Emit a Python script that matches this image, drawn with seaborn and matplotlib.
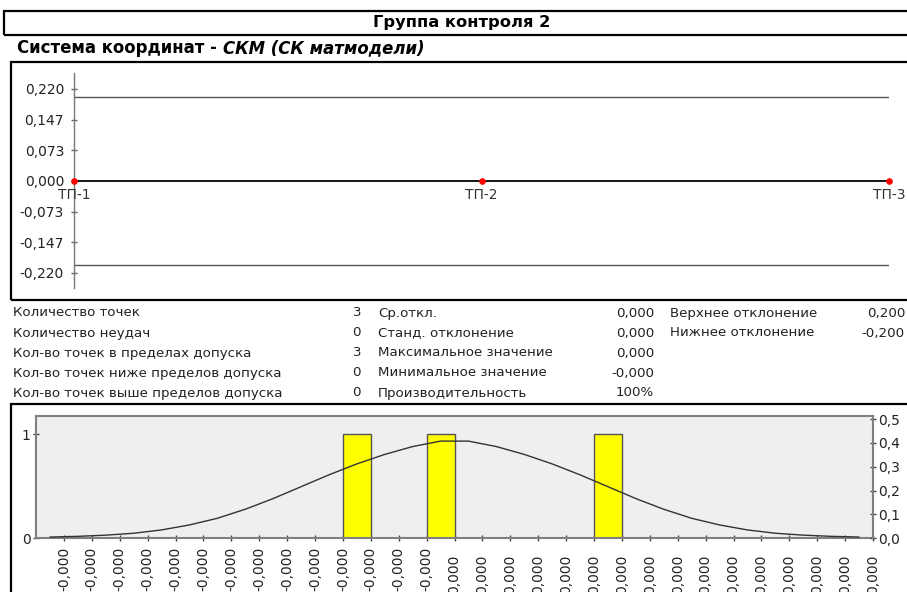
import numpy as np
import pandas as pd
import matplotlib
matplotlib.use("Agg")
import matplotlib.pyplot as plt
import seaborn as sns
from matplotlib.patches import Rectangle

# ---------------- data ----------------
title_text = "Группа контроля 2"
subtitle_plain = "Система координат - "
subtitle_italic = "СКМ (СК матмодели)"

point_names = ["ТП-1", "ТП-2", "ТП-3"]
point_dev = [0.000, 0.000, 0.000]
upper_tol = 0.200
lower_tol = -0.200
dev_ticks = [-0.220, -0.147, -0.073, 0.000, 0.073, 0.147, 0.220]

stats_col1_labels = ["Количество точек", "Количество неудач",
                     "Кол-во точек в пределах допуска",
                     "Кол-во точек ниже пределов допуска",
                     "Кол-во точек выше пределов допуска"]
stats_col1_values = ["3", "0", "3", "0", "0"]
stats_col2_labels = ["Ср.откл.", "Станд. отклонение", "Максимальное значение",
                     "Минимальное значение", "Производительность"]
stats_col2_values = ["0,000", "0,000", "0,000", "-0,000", "100%"]
stats_col3_labels = ["Верхнее отклонение", "Нижнее отклонение"]
stats_col3_values = ["0,200", "-0,200"]

# histogram: 30 bin-edge labels, 29 bins
hist_edge_labels = ["-0,000"] * 14 + ["0,000"] * 16
hist_counts = [0] * 10 + [1] + [0, 0] + [1] + [0] * 5 + [1] + [0] * 9
count_ticks = [0, 1]
density_ticks = [0.0, 0.1, 0.2, 0.3, 0.4, 0.5]
# normal curve read at bin centres (-0.5 ... 28.5)
curve_vals = [0.004, 0.007, 0.012, 0.020, 0.034, 0.055, 0.083, 0.121, 0.166,
              0.216, 0.266, 0.312, 0.352, 0.385, 0.408, 0.408, 0.385, 0.352,
              0.312, 0.266, 0.216, 0.166, 0.121, 0.083, 0.055, 0.034, 0.020,
              0.012, 0.007, 0.004]

# ---------------- setup ----------------
sns.set_style("white")
plt.rcParams["font.family"] = ["DejaVu Sans"]
W, H = 907, 592
fig = plt.figure(figsize=(W / 100, H / 100), dpi=100)


def fx(x):
    return x / W


def fy(y):
    return 1 - y / H


def axes_px(left, top, right, bottom):
    return fig.add_axes([fx(left), fy(bottom), (right - left) / W, (bottom - top) / H])


def rect_px(left, top, right, bottom, lw=2.0):
    fig.patches.append(Rectangle((fx(left), fy(bottom)), (right - left) / W,
                                 (bottom - top) / H, transform=fig.transFigure,
                                 fill=False, edgecolor="black", linewidth=lw))


# ---------------- frames & titles ----------------
rect_px(4, 11, 915, 35, lw=1.6)
fig.text(fx(462), fy(23), title_text, ha="center", va="center",
         fontsize=11.7, fontweight="bold", color="black")

t1 = fig.text(fx(17), fy(48), subtitle_plain, ha="left", va="center",
              fontsize=11.9, fontweight="bold", color="black")
fig.canvas.draw()
bb = t1.get_window_extent(renderer=fig.canvas.get_renderer())
fig.text(bb.x1 / W, fy(48), subtitle_italic, ha="left", va="center",
         fontsize=11.9, fontweight="bold", fontstyle="italic", color="black")

rect_px(11, 62, 915, 300, lw=1.6)
rect_px(11, 404, 915, 600, lw=1.6)

# ---------------- top deviation chart ----------------
ax = axes_px(74, 73, 889, 288)
px_per_unit = 92 / 0.22
ax.set_xlim(0, len(point_names) - 1)
ax.set_ylim(-(288 - 181) / px_per_unit, (181 - 73) / px_per_unit)
ax.axhline(upper_tol, color="#555555", lw=1)
ax.axhline(lower_tol, color="#555555", lw=1)
df_pts = pd.DataFrame({"pos": range(len(point_names)), "dev": point_dev})
sns.lineplot(data=df_pts, x="pos", y="dev", ax=ax, color="black", lw=1.3,
             marker="o", markersize=4, markerfacecolor="red",
             markeredgecolor="red", clip_on=False, zorder=5)
for i, name in enumerate(point_names):
    ax.annotate(name, (i, point_dev[i]), xytext=(0, -5), textcoords="offset points",
                ha="center", va="top", fontsize=10, color="#333333",
                annotation_clip=False)
ax.set_yticks(dev_ticks)
ax.set_yticklabels([f"{v:.3f}".replace(".", ",") for v in dev_ticks])
ax.set_xticks([])
ax.set_xlabel("")
ax.set_ylabel("")
for s in ["top", "right", "bottom"]:
    ax.spines[s].set_visible(False)
ax.spines["left"].set_color("#777777")
ax.spines["left"].set_linewidth(1)
ax.tick_params(axis="y", direction="inout", length=4.3, width=1, color="#666666",
               labelsize=10, labelcolor="#222222", pad=5, left=True)
ax.patch.set_visible(False)

# ---------------- stats table ----------------
rows_y = [313, 333, 353, 373, 393]
fs_tab = 9.6
tc = "#222222"
for i, y in enumerate(rows_y):
    fig.text(fx(13), fy(y), stats_col1_labels[i], ha="left", va="center", fontsize=fs_tab, color=tc)
    fig.text(fx(361), fy(y), stats_col1_values[i], ha="right", va="center", fontsize=fs_tab, color=tc)
    fig.text(fx(378), fy(y), stats_col2_labels[i], ha="left", va="center", fontsize=fs_tab, color=tc)
    fig.text(fx(654), fy(y), stats_col2_values[i], ha="right", va="center", fontsize=fs_tab, color=tc)
for i, y in enumerate(rows_y[:len(stats_col3_labels)]):
    fig.text(fx(670), fy(y), stats_col3_labels[i], ha="left", va="center", fontsize=fs_tab, color=tc)
    fig.text(fx(905), fy(y), stats_col3_values[i], ha="right", va="center", fontsize=fs_tab, color=tc)

# ---------------- histogram ----------------
hx = axes_px(36, 416, 873, 538)
hx.set_facecolor("#efefef")
n_bins = len(hist_counts)
edges = list(range(n_bins + 1))
df_hist = pd.DataFrame({"centre": [e + 0.5 for e in edges[:-1]], "count": hist_counts})
sns.histplot(data=df_hist, x="centre", weights="count", binwidth=1,
             binrange=(0, n_bins), ax=hx,
             color="#ffff00", alpha=1, edgecolor="#555555", linewidth=1)
hx.set_xlim(-1, n_bins)
hx.set_ylim(0, (538 - 416) / 104)
hx.set_xlabel("")
hx.set_ylabel("")
hx.set_yticks(count_ticks)
hx.set_yticklabels([str(v) for v in count_ticks])
hx.set_xticks(edges)
hx.set_xticklabels(hist_edge_labels, rotation=90, va="top", ha="center")
hx.tick_params(axis="x", direction="inout", length=5, width=1, color="#444444",
               labelsize=10, labelcolor="#222222", bottom=True)
hx.tick_params(axis="y", direction="inout", length=5, width=1, color="#444444",
               labelsize=10, labelcolor="#222222", pad=1.5, left=True)
for tick, lab in zip(hx.xaxis.get_major_ticks(), hist_edge_labels):
    tick.set_pad(3.5 if lab.startswith("-") else 9.3)
for s in ["left", "bottom", "top"]:
    hx.spines[s].set_color("#808080")
    hx.spines[s].set_linewidth(1.5)
hx.spines["right"].set_visible(False)

hx2 = hx.twinx()
df_curve = pd.DataFrame({"pos": np.arange(len(curve_vals)) - 0.5, "dens": curve_vals})
sns.lineplot(data=df_curve, x="pos", y="dens", ax=hx2, color="#333333", lw=1)
hx2.set_ylim(0, (538 - 416) / 237.5)
hx2.set_yticks(density_ticks)
hx2.set_yticklabels([f"{v:.1f}".replace(".", ",") for v in density_ticks])
hx2.set_ylabel("")
hx2.tick_params(axis="y", direction="inout", length=5, width=1, color="#444444",
                labelsize=10, labelcolor="#222222", pad=1, right=True)
for s in ["left", "bottom", "top"]:
    hx2.spines[s].set_visible(False)
hx2.spines["right"].set_color("#808080")
hx2.spines["right"].set_linewidth(1.5)

fig.savefig("out.png", dpi=100)
